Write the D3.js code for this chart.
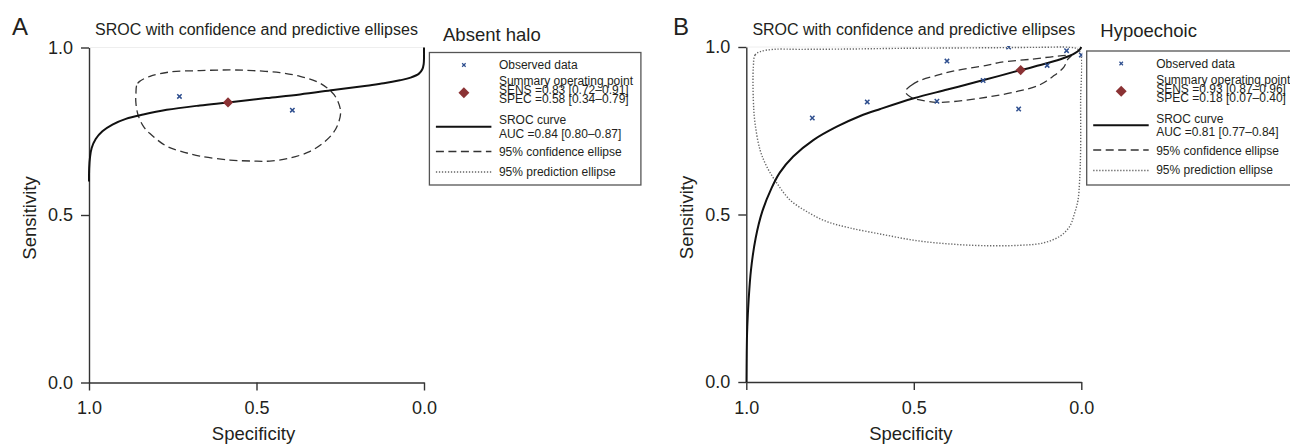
<!DOCTYPE html>
<html lang="en">
<head>
<meta charset="UTF-8">
<title>SROC with confidence and predictive ellipses</title>
<style>
  body { margin: 0; background: #fff; }
  text { font-family: "Liberation Sans", Arial, Helvetica, sans-serif; fill: #231f20; }
</style>
</head>
<body>
<div id="chart"></div>
<script src="https://d3js.org/d3.v7.min.js"></script>
<script>
// all pairs are [specificity, sensitivity]
const tickValues = [0, 0.5, 1];
const chartTitle = "SROC with confidence and predictive ellipses";
const xTitle = "Specificity";
const yTitle = "Sensitivity";

// panel A - absent halo
const obsA = [[0.730, 0.854], [0.393, 0.813]];
const summaryA = [0.585, 0.836];
const srocA = [[0.000, 1.000], [0.000, 0.970], [0.001, 0.950], [0.005, 0.935], [0.015, 0.922],
  [0.040, 0.910], [0.072, 0.902], [0.120, 0.893], [0.171, 0.886], [0.271, 0.873], [0.370, 0.860],
  [0.470, 0.849], [0.585, 0.836], [0.669, 0.827], [0.768, 0.814], [0.838, 0.800], [0.890, 0.787],
  [0.930, 0.770], [0.960, 0.750], [0.980, 0.727], [0.992, 0.700], [0.997, 0.672], [0.9995, 0.640],
  [1.000, 0.600]];
const confA = [[0.860, 0.860], [0.855, 0.893], [0.818, 0.914], [0.758, 0.927], [0.669, 0.931],
  [0.579, 0.933], [0.510, 0.931], [0.430, 0.925], [0.370, 0.914], [0.322, 0.899], [0.290, 0.880],
  [0.263, 0.851], [0.249, 0.810], [0.255, 0.776], [0.271, 0.745], [0.301, 0.715], [0.340, 0.690],
  [0.400, 0.670], [0.460, 0.661], [0.510, 0.661], [0.579, 0.664], [0.669, 0.676], [0.728, 0.691],
  [0.768, 0.705], [0.818, 0.743], [0.838, 0.765], [0.854, 0.800], [0.860, 0.835]];
const legendA = ["Observed data", "Summary operating point", "SENS =0.83 [0.72\u20130.91]",
  "SPEC =0.58 [0.34\u20130.79]", "SROC curve", "AUC =0.84 [0.80\u20130.87]",
  "95% confidence ellipse", "95% prediction ellipse"];

// panel B - hypoechoic
const obsB = [[0.803, 0.788], [0.639, 0.836], [0.431, 0.838], [0.401, 0.958], [0.293, 0.900],
  [0.217, 1.000], [0.187, 0.815], [0.102, 0.945], [0.044, 0.989], [0.000, 0.976]];
const summaryB = [0.181, 0.931];
const srocB = [[1.000, 0.000], [0.999, 0.090], [0.997, 0.165], [0.993, 0.245], [0.986, 0.335],
  [0.972, 0.430], [0.952, 0.510], [0.925, 0.578], [0.900, 0.625], [0.860, 0.673], [0.800, 0.722],
  [0.730, 0.762], [0.660, 0.794], [0.600, 0.815], [0.500, 0.847], [0.400, 0.873], [0.300, 0.899],
  [0.181, 0.931], [0.100, 0.952], [0.050, 0.968], [0.020, 0.981], [0.005, 0.992], [0.000, 1.000]];
const confB = [[0.525, 0.867], [0.507, 0.886], [0.482, 0.900], [0.432, 0.915], [0.383, 0.928],
  [0.283, 0.945], [0.243, 0.954], [0.145, 0.964], [0.079, 0.972], [0.044, 0.975], [0.029, 0.975],
  [0.040, 0.964], [0.052, 0.940], [0.085, 0.912], [0.124, 0.887], [0.193, 0.867], [0.283, 0.850],
  [0.383, 0.837], [0.432, 0.835], [0.482, 0.842], [0.512, 0.852]];
const predB = [[0.979, 0.941], [0.974, 0.976], [0.959, 0.986], [0.919, 0.993], [0.840, 0.993],
  [0.691, 0.994], [0.542, 0.996], [0.392, 0.997], [0.243, 0.998], [0.124, 0.999], [0.035, 0.999],
  [0.011, 0.994], [0.001, 0.976], [0.002, 0.842], [0.002, 0.693], [0.005, 0.602], [0.010, 0.542],
  [0.020, 0.504], [0.035, 0.464], [0.064, 0.435], [0.114, 0.415], [0.184, 0.408], [0.293, 0.407],
  [0.392, 0.412], [0.492, 0.422], [0.591, 0.440], [0.691, 0.460], [0.760, 0.479], [0.820, 0.509],
  [0.870, 0.544], [0.909, 0.594], [0.939, 0.643], [0.959, 0.693], [0.974, 0.773], [0.979, 0.842]];
const legendB = ["Observed data", "Summary operating point", "SENS =0.93 [0.87\u20130.96]",
  "SPEC =0.18 [0.07\u20130.40]", "SROC curve", "AUC =0.81 [0.77\u20130.84]",
  "95% confidence ellipse", "95% prediction ellipse"];

const W = 1290, H = 445, S = 335;
const svg = d3.select("#chart").append("svg").attr("width", W).attr("height", H);
svg.append("rect").attr("width", W).attr("height", H).attr("fill", "#fff");

const panels = [
  { id: "a", letter: "A", name: "Absent halo", left: 89, top: 47.5, letterX: 12, nameY: 40.5, legTop: 52.5,
    obs: obsA, summary: summaryA, sroc: srocA, conf: confA, pred: null, legend: legendA },
  { id: "b", letter: "B", name: "Hypoechoic", left: 746.3, top: 47, letterX: 673, nameY: 37, legTop: 51,
    obs: obsB, summary: summaryB, sroc: srocB, conf: confB, pred: predB, legend: legendB }
];

const obsPath = "M-2.2,-2.2L2.2,2.2M-2.2,2.2L2.2,-2.2";

panels.forEach(p => {
  const g = svg.append("g");
  const x = d3.scaleLinear().domain([1, 0]).range([p.left, p.left + S]);
  const y = d3.scaleLinear().domain([0, 1]).range([p.top + S, p.top]);

  // clip for the plot region
  svg.append("clipPath").attr("id", "clip-" + p.id)
    .append("rect").attr("x", p.left - 1).attr("y", p.top - 1).attr("width", S + 2).attr("height", S + 2);

  // faint frame line at the top
  g.append("line").attr("x1", p.left).attr("x2", p.left + S).attr("y1", p.top).attr("y2", p.top)
    .attr("stroke", "#eeeeee").attr("stroke-width", 1);

  // axes
  const yAxis = d3.axisLeft(y).tickValues(tickValues).tickFormat(d3.format(".1f"))
    .tickSize(8).tickSizeOuter(0).tickPadding(8);
  const xAxis = d3.axisBottom(x).tickValues(tickValues).tickFormat(d3.format(".1f"))
    .tickSize(8).tickSizeOuter(0).tickPadding(11);
  const ya = g.append("g").attr("transform", "translate(" + p.left + ",0)").call(yAxis);
  const xa = g.append("g").attr("transform", "translate(0," + (p.top + S) + ")").call(xAxis);
  [ya, xa].forEach(a => {
    a.select(".domain").attr("stroke", "#333").attr("stroke-width", 1.4);
    a.selectAll(".tick line").attr("stroke", "#333").attr("stroke-width", 1.4);
    a.selectAll(".tick text").attr("font-size", 18).attr("fill", "#231f20")
      .attr("font-family", "'Liberation Sans', Arial, sans-serif");
  });

  // titles
  g.append("text").attr("x", p.left + S / 2).attr("y", 34.5).attr("text-anchor", "middle")
    .attr("font-size", 16).text(chartTitle);
  g.append("text").attr("x", p.left + S / 2 - 3).attr("y", 440).attr("text-anchor", "middle")
    .attr("font-size", 18.5).text(xTitle);
  g.append("text").attr("transform", "translate(" + (p.left - 53) + "," + (p.top + S / 2 + 3) + ") rotate(-90)")
    .attr("text-anchor", "middle").attr("font-size", 18.5).text(yTitle);
  g.append("text").attr("x", p.letterX).attr("y", 35).attr("font-size", 24).text(p.letter);
  g.append("text").attr("x", p.left + 354).attr("y", p.nameY).attr("font-size", 18.5).text(p.name);

  const plot = g.append("g").attr("clip-path", "url(#clip-" + p.id + ")");
  const line = d3.line().x(d => x(d[0])).y(d => y(d[1]));
  const closed = d3.line().x(d => x(d[0])).y(d => y(d[1])).curve(d3.curveCatmullRomClosed.alpha(0.5));

  if (p.pred) {
    plot.append("path").attr("d", closed(p.pred)).attr("fill", "none")
      .attr("stroke", "#666").attr("stroke-width", 1.4).attr("stroke-dasharray", "1.3,1.7");
  }
  plot.append("path").attr("d", closed(p.conf)).attr("fill", "none")
    .attr("stroke", "#333").attr("stroke-width", 1.3).attr("stroke-dasharray", "8,4.5");
  plot.append("path").attr("d", line.curve(d3.curveCatmullRom.alpha(0.5))(p.sroc)).attr("fill", "none")
    .attr("stroke", "#111").attr("stroke-width", 2);

  plot.selectAll(".obs").data(p.obs).enter().append("path")
    .attr("d", obsPath).attr("transform", d => "translate(" + x(d[0]) + "," + y(d[1]) + ")")
    .attr("stroke", "#2f4f8f").attr("stroke-width", 1.5).attr("fill", "none");
  plot.append("path").attr("d", d3.symbol(d3.symbolSquare).size(52)())
    .attr("transform", "translate(" + x(p.summary[0]) + "," + y(p.summary[1]) + ") rotate(45)")
    .attr("fill", "#8b3234");

  // legend
  const lx = p.left + 340.4, ly = p.legTop;
  const leg = g.append("g");
  leg.append("rect").attr("x", lx).attr("y", ly).attr("width", 211.5).attr("height", 185 - ly)
    .attr("fill", "#fff").attr("stroke", "#555").attr("stroke-width", 1.3);
  const rowY = [16.5, 32.5, 41.5, 50.5, 71.5, 85, 103.5, 123];
  leg.selectAll("text").data(p.legend).enter().append("text")
    .attr("x", lx + 69.5).attr("y", (d, i) => ly + rowY[i]).attr("font-size", 12).text(d => d);
  leg.append("path").attr("d", obsPath)
    .attr("transform", "translate(" + (lx + 34.5) + "," + (ly + 12.5) + ") scale(0.8)")
    .attr("stroke", "#2f4f8f").attr("stroke-width", 1.5).attr("fill", "none");
  leg.append("path").attr("d", d3.symbol(d3.symbolSquare).size(60)())
    .attr("transform", "translate(" + (lx + 34.5) + "," + (ly + 40.3) + ") rotate(45)")
    .attr("fill", "#8b3234");
  const samples = [
    { dy: 74.3, stroke: "#111", w: 2, dash: null },
    { dy: 99, stroke: "#333", w: 1.3, dash: "8,4.5" },
    { dy: 119.5, stroke: "#666", w: 1.4, dash: "1.3,1.7" }
  ];
  samples.forEach(s => {
    leg.append("line").attr("x1", lx + 6.5).attr("x2", lx + 62).attr("y1", ly + s.dy).attr("y2", ly + s.dy)
      .attr("stroke", s.stroke).attr("stroke-width", s.w).attr("stroke-dasharray", s.dash);
  });
});
</script>
</body>
</html>
